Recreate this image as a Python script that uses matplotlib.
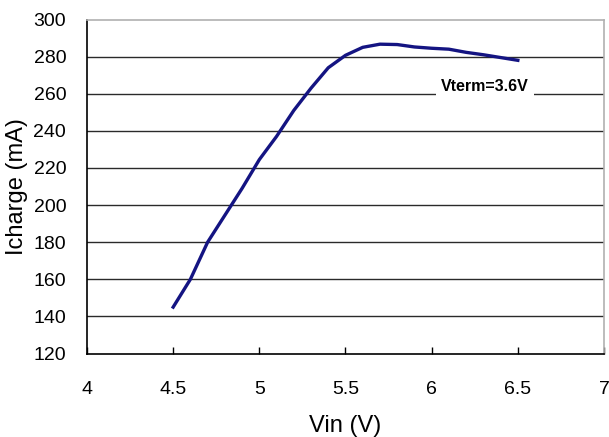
import matplotlib
matplotlib.use('Agg')
import matplotlib.pyplot as plt

vin = [4.5, 4.6, 4.7, 4.8, 4.9, 5.0, 5.1, 5.2, 5.3, 5.4, 5.5,
       5.6, 5.7, 5.8, 5.9, 6.0, 6.1, 6.2, 6.3, 6.4, 6.5]
icharge = [145, 160, 180, 194.5, 209, 224.5, 237, 251, 263, 274, 280.7,
           285, 286.7, 286.5, 285.2, 284.5, 284, 282.3, 281, 279.5, 278]
x_ticks = [4, 4.5, 5, 5.5, 6, 6.5, 7]
y_ticks = list(range(120, 301, 20))
label = 'Vterm=3.6V'

plt.rcParams['font.family'] = ['Liberation Sans', 'DejaVu Sans']

fig = plt.figure(figsize=(6.09, 4.37), dpi=100)
ax = fig.add_axes([87 / 609, 1 - 353.5 / 437, 517 / 609, 334 / 437])

for y in y_ticks[1:-1]:
    ax.axhline(y, color='#2a2a2a', lw=1.0, zorder=1)

ax.plot(vin, icharge, color='#141482', lw=2.4, zorder=3)

ax.text(6.31, 263.8, label, fontsize=11.5, fontweight='bold', ha='center', va='center',
        bbox=dict(facecolor='white', edgecolor='none', pad=3.5), zorder=2)

ax.set_xlim(4, 7)
ax.set_ylim(120, 300)
ax.set_xticks(x_ticks)
ax.set_xticklabels(['4', '4.5', '5', '5.5', '6', '6.5', '7'])
ax.set_yticks(y_ticks)
ax.tick_params(axis='x', direction='in', length=5, width=1, color='black',
               labelsize=14, pad=20)
ax.tick_params(axis='y', direction='in', length=0, labelsize=14, pad=15)

ax.spines['left'].set_color('black')
ax.spines['bottom'].set_color('black')
ax.spines['top'].set_color('#b0b0b0')
ax.spines['right'].set_color('#b0b0b0')
for s in ax.spines.values():
    s.set_linewidth(1.2)

ax.set_xlabel('Vin (V)', fontsize=17, labelpad=12)
ax.set_ylabel('Icharge (mA)', fontsize=17, labelpad=4)

fig.savefig('out.png', dpi=100)
